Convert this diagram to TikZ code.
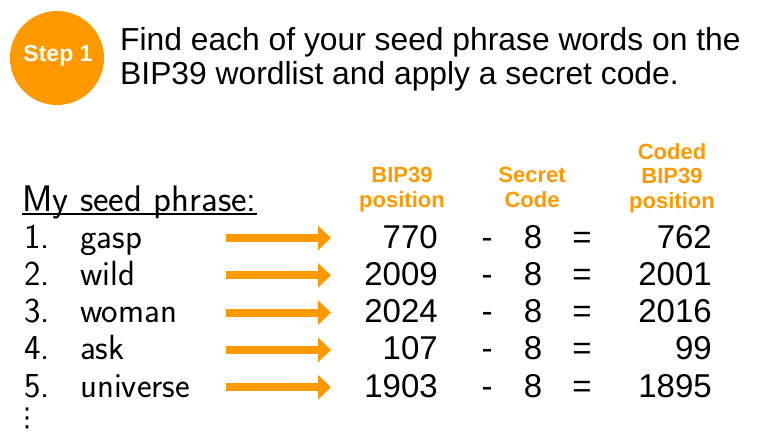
\documentclass[tikz,border=0pt]{standalone}
\usepackage{fontspec}
\setmainfont{Liberation Sans}
\newfontfamily\symfont{DejaVu Sans}
\usepackage{tikz}
\usetikzlibrary{arrows.meta}
\definecolor{steporange}{RGB}{255,153,0}

\begin{document}
\begin{tikzpicture}[x=1pt, y=-1pt,
  title/.style = {anchor=base west, inner sep=0pt, font=\fontsize{31.8}{34}\selectfont},
  colhead/.style = {anchor=north, align=center, inner sep=0pt, text=steporange, font=\fontsize{22}{24.5}\selectfont\bfseries},
  hand/.style = {anchor=base west, inner sep=0pt, font=\fontsize{35}{36}\selectfont\sffamily},
  num/.style = {anchor=base east, inner sep=0pt, font=\fontsize{33}{36}\selectfont},
  op/.style = {anchor=base, inner sep=0pt, font=\fontsize{33}{36}\selectfont},
  link/.style = {line width=8pt, steporange, -{Triangle[length=13pt, width=24pt]}}]
\useasboundingbox (0,0) rectangle (770,440);
% step badge and title
\node[circle, fill=steporange, minimum size=94pt, inner sep=0pt] (step) at (57,58) {};
\node[text=white, inner sep=0pt, font=\fontsize{23}{26}\selectfont\bfseries] (steplabel) at (58,56) {Step 1};
\node[title] (title1) at (120,50) {Find each of your seed phrase words on the};
\node[title] (title2) at (120,84) {BIP39 wordlist and apply a secret code.};
% column heads
\node[colhead] (poshead) at (402,167) {BIP39\\position};
\node[colhead] (codehead) at (532,167) {Secret\\Code};
\node[colhead] (codedhead) at (672,143) {Coded\\BIP39\\position};
\node[hand, font=\fontsize{37}{38}\selectfont\sffamily] (myseed) at (22,211) {My seed phrase:};
\draw[line width=1.3pt] ([yshift=-3pt]myseed.base west) -- ([yshift=-3pt]myseed.base east);
% rows
\foreach \i/\word/\pos/\cod in {1/gasp/770/762, 2/wild/2009/2001, 3/woman/2024/2016, 4/ask/107/99, 5/universe/1903/1895} {
  \pgfmathsetmacro\yb{248+(\i-1)*37.3}
  \node[hand] (idx\i) at (24,\yb) {\i.};
  \node[hand] (word\i) at (80,\yb) {\word};
  \coordinate (from\i) at (226,\yb-10);
  \coordinate (to\i) at (331,\yb-10);
  \draw[link] (from\i) -- (to\i);
  \node[num] (pos\i) at (438,\yb) {\pos};
  \node[op] (minus\i) at (487,\yb) {-};
  \node[op] (code\i) at (533,\yb) {8};
  \node[op] (eq\i) at (582,\yb) {=};
  \node[num] (coded\i) at (712,\yb) {\cod};
}
\node[inner sep=0pt, font=\fontsize{26}{26}\symfont] (more) at (27,418) {⋮};
\end{tikzpicture}
\end{document}
